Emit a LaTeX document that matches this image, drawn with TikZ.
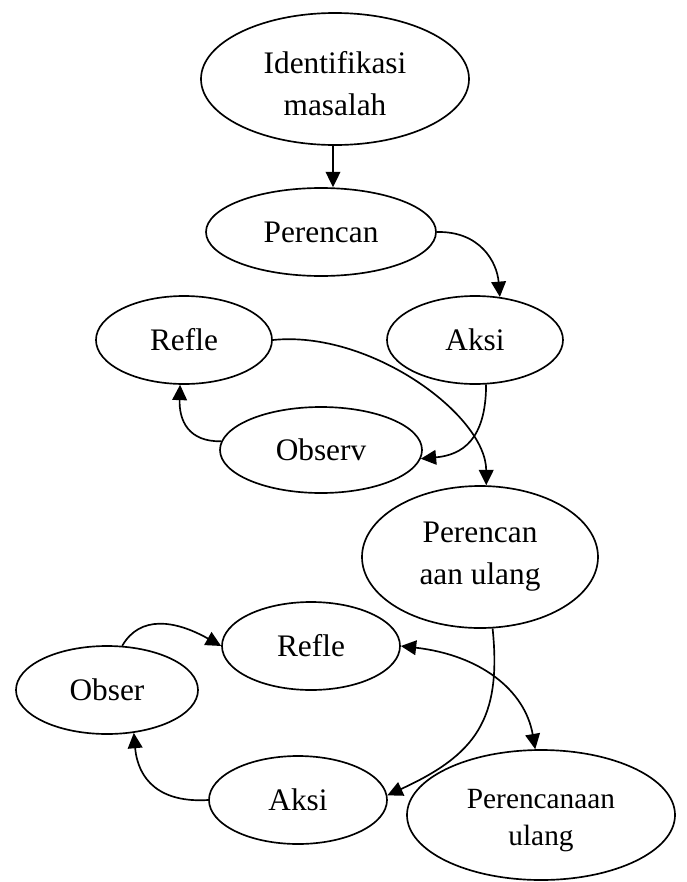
\documentclass[tikz,border=0pt]{standalone}
\usepackage{fontspec}
\setmainfont{Liberation Serif}
\usetikzlibrary{shapes.geometric,arrows.meta}
\begin{document}
\begin{tikzpicture}[x=0.75pt,y=-0.75pt,
  el/.style={draw,ellipse,line width=1.25pt,inner sep=0pt,align=center,
    font=\fontsize{23.5}{31.5}\selectfont},
  conn/.style={line width=1.25pt,-{Triangle[length=11.5pt,width=11pt]}},
  conn2/.style={line width=1.25pt,{Triangle[length=11.5pt,width=11pt]}-{Triangle[length=11.5pt,width=11pt]}},
]
\useasboundingbox (0,0) rectangle (686,882);

\node[el,minimum width=201pt,minimum height=99pt] (ident) at (335,79) {\rule{0pt}{24pt}Identifikasi\\masalah};
\node[el,minimum width=172.5pt,minimum height=66pt] (pren) at (321,232) {Perencan};
\node[el,minimum width=132pt,minimum height=66pt] (aksi1) at (475,340) {Aksi};
\node[el,minimum width=132pt,minimum height=66pt] (refle1) at (184,340) {Refle};
\node[el,minimum width=151.5pt,minimum height=64.5pt] (obsv) at (321,450) {Observ};
\node[el,minimum width=177pt,minimum height=106.5pt] (pren2) at (480,557) {Perencan\\aan ulang};
\node[el,minimum width=133.5pt,minimum height=66pt] (refle2) at (311,646) {Refle};
\node[el,minimum width=136.5pt,minimum height=66pt] (obser) at (107,690) {Obser};
\node[el,minimum width=133.5pt,minimum height=66pt] (aksi2) at (298,800) {Aksi};
\node[el,minimum width=201pt,minimum height=97.5pt,font=\fontsize{22}{27.5}\selectfont] (pren3) at (541,815) {\rule{0pt}{23pt}Perencanaan\\ulang};

\draw[conn] ([xshift=-1.5pt]ident.south) -- ([xshift=-1.5pt]ident.south |- pren.north);
\draw[conn] (pren.east) .. controls (480,231) and (497,262) .. (aksi1.60);
\draw[conn] (aksi1.-76) .. controls (486,440) and (462,455) .. (obsv.-5);
\draw[conn] (obsv.175) .. controls (188,442) and (179,420) .. (refle1.265);
\draw[conn] (refle1.east) .. controls (370,330) and (486,415) .. (pren2.85);
\draw[conn] (pren2.-80) .. controls (502,720) and (475,755) .. (aksi2.3);
\draw[conn2] (refle2.east) .. controls (480,655) and (525,690) .. (pren3.95);
\draw[conn] (obser.71) .. controls (140,615) and (175,620) .. (refle2.west);
\draw[conn] (aksi2.west) .. controls (160,803) and (138,780) .. (obser.-58);
\end{tikzpicture}
\end{document}
